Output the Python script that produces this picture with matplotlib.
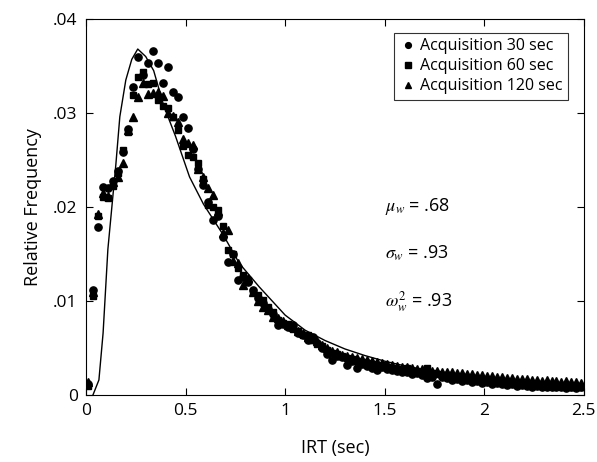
#!/usr/bin/env python3
"""Relative frequency of IRTs for three acquisition conditions with fitted curve."""

import matplotlib
matplotlib.use("Agg")
import matplotlib.pyplot as plt
import numpy as np
from matplotlib.ticker import FuncFormatter

plt.rcParams["font.family"] = ["Open Sans", "DejaVu Sans"]
plt.rcParams["mathtext.fontset"] = "stix"

BIN_WIDTH = 0.025
irt_bins = np.arange(100) * BIN_WIDTH + BIN_WIDTH / 2

acq_30 = [
    .0012, .0112, .0179, .0221, .0220, .0228, .0238, .0259, .0283, .0328,
    .0359, .0340, .0353, .0366, .0353, .0332, .0349, .0322, .0317, .0296,
    .0284, .0262, .0240, .0223, .0205, .0186, .0190, .0168, .0141, .0150,
    .0122, .0125, .0120, .0112, .0103, .0098, .0092, .0086, .0074, .0076,
    .0072, .0074, .0066, .0064, .0059, .0062, .0055, .0050, .0044, .0037,
    .0042, .0040, .0032, .0036, .0029, .0033, .0031, .0029, .0027, .0030,
    .0028, .0027, .0026, .0024, .0025, .0022, .0023, .0021, .0018, .0019,
    .0012, .0019, .0018, .0016, .0017, .0015, .0016, .0014, .0015, .0013,
    .0014, .0012, .0013, .0012, .0011, .0012, .0010, .0011, .0010, .0009,
    .0010, .0009, .0008, .0009, .0008, .0009, .0007, .0008, .0007, .0008,
]
acq_60 = [
    .0010, .0105, .0190, .0211, .0210, .0222, .0236, .0261, .0280, .0319,
    .0338, .0344, .0331, .0332, .0314, .0307, .0305, .0296, .0282, .0265,
    .0255, .0253, .0247, .0230, .0202, .0200, .0197, .0180, .0154, .0150,
    .0135, .0128, .0122, .0110, .0106, .0101, .0094, .0088, .0080, .0077,
    .0075, .0070, .0068, .0064, .0064, .0058, .0054, .0052, .0048, .0045,
    .0044, .0041, .0039, .0038, .0036, .0035, .0034, .0033, .0031, .0032,
    .0030, .0029, .0028, .0027, .0029, .0026, .0025, .0024, .0029, .0023,
    .0022, .0021, .0021, .0020, .0019, .0019, .0018, .0018, .0017, .0016,
    .0016, .0015, .0015, .0014, .0014, .0013, .0013, .0013, .0012, .0012,
    .0012, .0011, .0011, .0011, .0010, .0010, .0010, .0009, .0010, .0009,
]
acq_120 = [
    .0014, .0110, .0192, .0215, .0212, .0227, .0232, .0247, .0282, .0296,
    .0317, .0332, .0320, .0321, .0322, .0318, .0300, .0297, .0290, .0272,
    .0268, .0266, .0240, .0232, .0220, .0213, .0196, .0172, .0175, .0143,
    .0140, .0117, .0124, .0110, .0100, .0094, .0090, .0083, .0082, .0079,
    .0074, .0072, .0068, .0066, .0062, .0060, .0057, .0053, .0050, .0047,
    .0046, .0043, .0042, .0040, .0039, .0038, .0037, .0036, .0035, .0034,
    .0033, .0032, .0031, .0030, .0030, .0029, .0028, .0028, .0027, .0026,
    .0026, .0025, .0024, .0024, .0023, .0023, .0022, .0022, .0021, .0021,
    .0020, .0020, .0019, .0019, .0018, .0018, .0017, .0017, .0017, .0016,
    .0016, .0015, .0016, .0015, .0015, .0014, .0015, .0014, .0014, .0013,
]

fit_x = [0.035, 0.065, 0.086, 0.11, 0.13, 0.15, 0.17, 0.20, 0.23, 0.26,
         0.30, 0.34, 0.39, 0.45, 0.52, 0.59, 0.69, 0.77, 0.87, 1.0, 1.1,
         1.2, 1.3, 1.4, 1.5, 1.6, 1.7, 1.8, 1.9, 2.0, 2.2, 2.4, 2.5]
fit_y = [0.0, .0016, .0066, .0155, .0200, .0245, .0296, .0335, .0357, .0368,
         .0360, .0345, .0308, .0275, .0232, .0203, .0170, .0140, .0115, .0085,
         .0069, .0058, .0049, .0042, .0036, .0031, .0027, .0023, .0020, .0018,
         .0014, .0011, .0010]

series = [
    (acq_30, "o", 5.2, "Acquisition 30 sec"),
    (acq_60, "s", 4.6, "Acquisition 60 sec"),
    (acq_120, "^", 5.4, "Acquisition 120 sec"),
]
stats = [r"$\mu_{w}$ = .68", r"$\sigma_{w}$ = .93", r"$\omega_{w}^{2}$ = .93"]

fig = plt.figure(figsize=(5.97, 4.62), dpi=100)
ax = fig.add_axes([0.144, 0.145, 0.834, 0.814])

for values, marker, size, label in series:
    ax.plot(irt_bins, values, linestyle="none", marker=marker, markersize=size,
            color="black", label=label)
ax.plot(fit_x, fit_y, color="black", linewidth=1.0)

ax.set_xlim(0, 2.5)
ax.set_ylim(0, 0.04)
ax.set_xticks([0, 0.5, 1, 1.5, 2, 2.5])
ax.set_xticklabels(["0", "0.5", "1", "1.5", "2", "2.5"])
ax.set_yticks([0, 0.01, 0.02, 0.03, 0.04])
ax.yaxis.set_major_formatter(FuncFormatter(
    lambda v, _: "0" if v == 0 else f"{v:.2f}".lstrip("0")))
ax.tick_params(direction="in", top=True, right=True, length=5,
               labelsize=12.5, pad=6)
ax.set_xlabel("IRT (sec)", fontsize=13, labelpad=14)
ax.set_ylabel("Relative Frequency", fontsize=13, labelpad=8)

for i, text in enumerate(stats):
    ax.text(1.5, 0.0196 - i * 0.0051, text, fontsize=13)

leg = ax.legend(loc="upper right", fontsize=11.5, handletextpad=0.3,
                handlelength=1.0, borderpad=0.35, labelspacing=0.25,
                fancybox=False, edgecolor="black", markerscale=0.8,
                bbox_to_anchor=(0.985, 0.985))
leg.get_frame().set_linewidth(0.8)

fig.savefig("out.png", dpi=100)
